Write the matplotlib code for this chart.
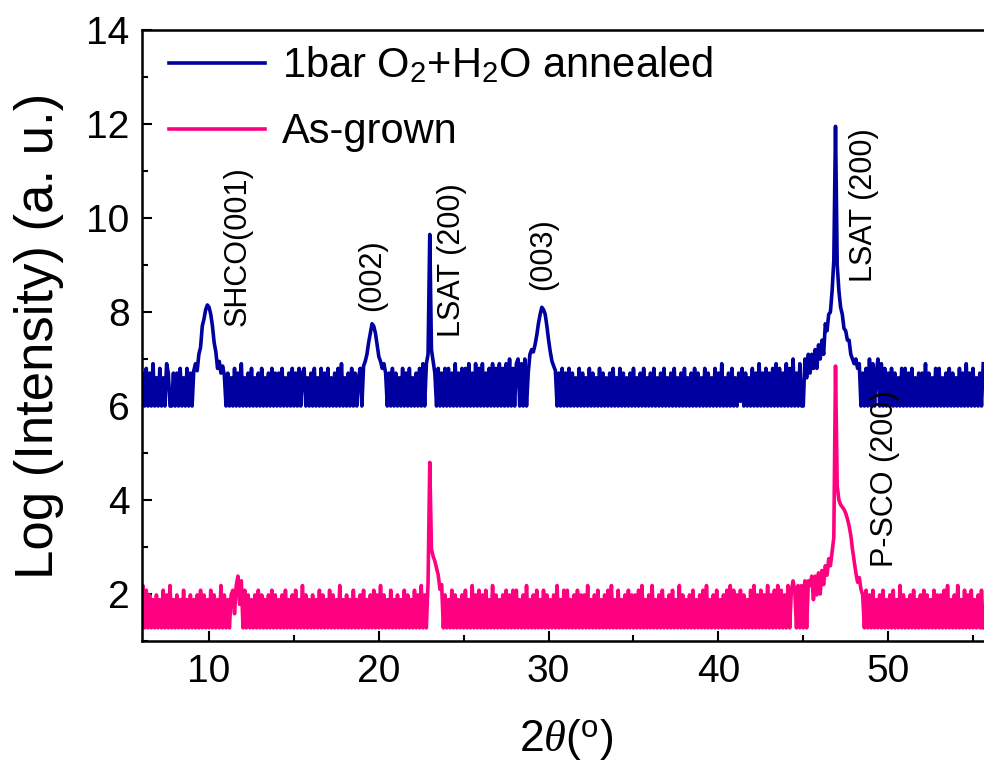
import numpy as np
import matplotlib
matplotlib.use('Agg')
import matplotlib.pyplot as plt
from matplotlib.ticker import MultipleLocator

plt.rcParams['font.family'] = ['Liberation Sans', 'DejaVu Sans']
plt.rcParams['mathtext.fontset'] = 'custom'
plt.rcParams['mathtext.rm'] = 'Liberation Sans'
plt.rcParams['mathtext.it'] = 'Liberation Serif:italic'

# 2theta grid of the scan (deg), 0.1 deg step
ang_start = 6.0
ang_step = 0.1

# noise of the flat background, hex digit = tenths above the floor
# (one string per degree)
annealed_floor = 6.0
annealed_noise = [
    "0708070906", "0806097007", "0708060807", "0777777777", "7777777777",
    "0706080709", "0607080607", "0806070807", "0708060708", "0708078060",
    "7080608070", "8060708090", "6070807068", "0777777777", "7777707080",
    "7060807080", "6070809070", "7777080708", "0807090708", "0809070908",
    "0907080908", "0908090a08", "09a090a078", "7777777777", "7777707080",
    "7080706080", "7060807060", "8070607080", "6080706070", "8060708060",
    "7080607080", "6070806070", "8060708070", "6080706080", "7090607080",
    "6071807060", "8070907080", "7080908070", "9080a07090", "0a6b7b8c8d",
    "aebf777777", "7777777eba", "9a8907080a", "0907a09080", "7080706080",
    "8070806070", "7090706080", "8060708070", "6080709070", "8060709",
]

grown_floor = 1.28
grown_noise = [
    "0908070607", "0608070906", "0706080607", "0607080706", "0807060907",
    "0607839b5a", "0807060708", "0706070807", "0607080607", "0806090706",
    "0706080706", "0807060906", "0706080607", "0806070807", "0907060806",
    "0706080706", "0807090708", "7777777707", "0608070607", "0806090708",
    "0708060907", "0607080708", "0806070906", "0708060807", "0607090608",
    "0806070807", "0709060708", "0607080906", "0806070807", "0708090607",
    "0906070806", "0708060907", "0607080607", "0809060708", "0607080908",
    "0708070608", "0907080709", "0708090807", "0908a80909", "0a0a9b6b7c",
    "7777777777", "7777777777", "7777770807", "0806070806", "0708060907",
    "0607080607", "0807060807", "0708090607", "0906080708", "0607080",
]

# peak regions read point by point: (first angle, values)
annealed_peaks = [
    (9.1, [6.75, 6.9, 6.75, 7.1, 7.25, 7.7, 7.85, 8.05, 8.15, 8.1,
           7.95, 7.7, 7.35, 7.15, 6.8, 6.95, 6.7, 6.85, 6.65]),
    (19.1, [6.85, 6.95, 7.1, 7.35, 7.55, 7.75, 7.7, 7.55, 7.3, 7.05,
            6.95, 6.8, 6.9, 6.7]),
    (22.8, [6.9, 7.1, 9.65, 7.2, 6.95]),
    (28.9, [7.1, 7.2, 7.15, 7.3, 7.5, 7.75, 7.95, 8.1, 8.05, 7.95,
            7.7, 7.4, 7.15, 6.95, 6.85, 6.75]),
    (46.3, [7.75, 7.6, 7.95, 8.0, 8.45, 9.1, 11.95, 9.0, 8.45, 8.1,
            7.95, 7.65, 7.6, 7.4]),
]
grown_peaks = [
    (22.9, [2.25, 4.8, 2.95, 2.8, 2.7, 2.55, 2.4, 2.1, 2.2]),
    (45.9, [2.45, 2.0, 2.5, 2.2, 2.6, 2.4, 2.75, 2.6, 2.9, 3.2,
            6.85, 4.3, 4.0, 3.9, 3.85, 3.8, 3.72, 3.6, 3.45, 3.25,
            2.95, 2.7, 2.45, 2.25, 2.35, 2.1]),
]


def build(floor, noise, peaks):
    digits = "".join(noise)
    y = floor + np.array([int(c, 16) for c in digits]) * 0.1
    for start, vals in peaks:
        i0 = int(round((start - ang_start) / ang_step))
        y[i0:i0 + len(vals)] = vals
    return y


annealed = build(annealed_floor, annealed_noise, annealed_peaks)
grown = build(grown_floor, grown_noise, grown_peaks)
two_theta = ang_start + ang_step * np.arange(len(annealed))

fig = plt.figure(figsize=(9.84, 7.68), dpi=100)
ax = fig.add_axes([142 / 984, 1 - 641 / 768, 848 / 984, 611 / 768])

ax.plot(two_theta, annealed, color='#0000a0', lw=2.6,
        label='1bar O$_2$+H$_2$O annealed')
ax.plot(two_theta, grown, color='#ff0080', lw=2.6, label='As-grown')

ax.set_xlim(6.05, 56.0)
ax.set_ylim(1, 14)
ax.xaxis.set_major_locator(MultipleLocator(10))
ax.xaxis.set_minor_locator(MultipleLocator(5))
ax.yaxis.set_major_locator(MultipleLocator(2))
ax.yaxis.set_minor_locator(MultipleLocator(1))
ax.yaxis.set_major_formatter(plt.FuncFormatter(lambda v, p: '' if v < 2 else '%d' % v))
ax.tick_params(which='both', direction='in', width=1.5, labelsize=28, pad=9)
ax.tick_params(which='major', length=7)
ax.tick_params(which='minor', length=4)
for s in ax.spines.values():
    s.set_linewidth(1.8)
ax.spines['right'].set_visible(False)

ax.set_xlabel(r'2$\theta$($^{\rm o}$)', fontsize=32, labelpad=20)
ax.set_ylabel('Log (Intensity) (a. u.)', fontsize=38, labelpad=16)

lab = dict(rotation=90, ha='center', va='bottom', fontsize=22)
ax.text(11.7, 7.7, 'SHCO(001)', **lab)
ax.text(19.6, 8.02, '(002)', **lab)
ax.text(24.3, 7.47, 'LSAT (200)', **lab)
ax.text(29.7, 8.47, '(003)', **lab)
ax.text(48.6, 8.64, 'LSAT (200)', **lab)
ax.text(49.8, 2.57, 'P-SCO (200)', **lab)

ax.legend(loc='upper left', bbox_to_anchor=(0.032, 0.974), frameon=False,
          fontsize=30, handlelength=2.3, handletextpad=0.4,
          labelspacing=0.62, borderpad=0, borderaxespad=0)

fig.savefig('out.png', dpi=100)
